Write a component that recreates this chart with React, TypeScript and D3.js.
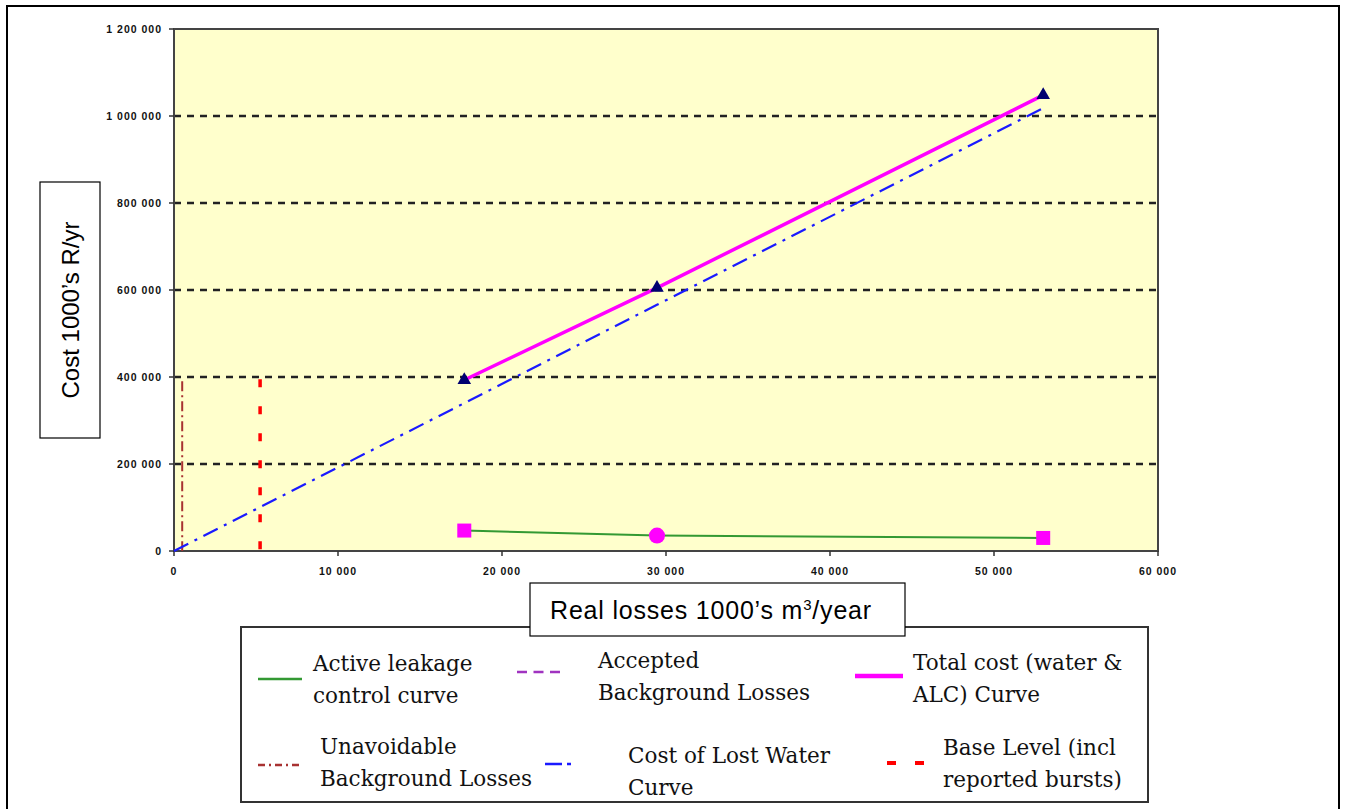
import React from "react";
import * as d3 from "d3";

// ---- data ----
const xTicks = [0, 10000, 20000, 30000, 40000, 50000, 60000];
const yTicks = [0, 200000, 400000, 600000, 800000, 1000000, 1200000];
const gridValues = [200000, 400000, 600000, 800000, 1000000];

const lossPoints = [17700, 29450, 53000];
const totalCost = [393000, 605000, 1048000];
const alcCost = [47000, 35500, 30000];
const alcMarkerShapes = ["square", "circle", "square"];

const lostWaterX = [0, 17700, 29450, 53000];
const lostWaterCost = [0, 340000, 566000, 1018000];

const unavoidableX = 500;
const unavoidableTop = 390000;
const baseLevelX = 5250;
const baseLevelTop = 395000;

const yTitle = "Cost 1000\u2019s R/yr";
const xTitleMain = "Real losses 1000\u2019s m";
const xTitleSup = "3";
const xTitleEnd = "/year";

const legendItems = [
  { lines: ["Active leakage", "control curve"], kind: "alc" },
  { lines: ["Accepted", "Background Losses"], kind: "accepted" },
  { lines: ["Total cost (water &", "ALC) Curve"], kind: "total" },
  { lines: ["Unavoidable", "Background Losses"], kind: "unavoidable" },
  { lines: ["Cost of Lost Water", "Curve"], kind: "lost" },
  { lines: ["Base Level (incl", "reported bursts)"], kind: "base" },
];

// ---- layout ----
const W = 1346;
const H = 809;
const plot = { left: 174, top: 29, right: 1158, bottom: 551 };

const COLORS = {
  alc: "#339933",
  accepted: "#a033c0",
  total: "#ff00ff",
  unavoidable: "#a83232",
  lost: "#1a1aff",
  base: "#ff0000",
  marker: "#ff00ff",
  tri: "#000070",
};

const legendLayout: Record<string, { sx1: number; sx2: number; sy: number; tx: number; ty: number }> = {
  alc: { sx1: 258, sx2: 302, sy: 679, tx: 313, ty: 671 },
  accepted: { sx1: 517, sx2: 560, sy: 672, tx: 598, ty: 668 },
  total: { sx1: 855, sx2: 903, sy: 676, tx: 913, ty: 670 },
  unavoidable: { sx1: 258, sx2: 301, sy: 765, tx: 320, ty: 754 },
  lost: { sx1: 545, sx2: 572, sy: 764, tx: 628, ty: 763 },
  base: { sx1: 887, sx2: 925, sy: 763, tx: 943, ty: 755 },
};

const lineStyles: Record<string, { stroke: string; width: number; dash?: string; legendDash?: string }> = {
  alc: { stroke: COLORS.alc, width: 2 },
  accepted: { stroke: COLORS.accepted, width: 2.5, dash: "10,6.5", legendDash: "10,6.5" },
  total: { stroke: COLORS.total, width: 3.5 },
  unavoidable: { stroke: COLORS.unavoidable, width: 2, dash: "10,4,2,4", legendDash: "7,4,2,4" },
  lost: { stroke: COLORS.lost, width: 2.2, dash: "16,7,3,7", legendDash: "17,5,4,100" },
  base: { stroke: COLORS.base, width: 3.5, dash: "8,19", legendDash: "9,19" },
};

const fmt = (v: number) => d3.format(",")(v).replace(/,/g, " ");

export default function App() {
  const x = d3.scaleLinear().domain([0, 60000]).range([plot.left, plot.right]);
  const y = d3.scaleLinear().domain([0, 1200000]).range([plot.bottom, plot.top]);

  const line = d3
    .line<[number, number]>()
    .x((d) => x(d[0]))
    .y((d) => y(d[1]));

  const totalPath = line(lossPoints.map((v, i) => [v, totalCost[i]] as [number, number])) || "";
  const alcPath = line(lossPoints.map((v, i) => [v, alcCost[i]] as [number, number])) || "";
  const lostPath = line(lostWaterX.map((v, i) => [v, lostWaterCost[i]] as [number, number])) || "";
  const triPath = d3.symbol().type(d3.symbolTriangle).size(80)() || "";

  const tickFont = {
    fontFamily: "'Liberation Sans', Arial, sans-serif",
    fontSize: 10.5,
    fontWeight: 700,
    letterSpacing: 1,
    fill: "#111",
  } as const;

  return (
    <svg
      width={W}
      height={H}
      style={{ position: "absolute", left: 0, top: 0, background: "#fff" }}
    >
      <rect x={0} y={0} width={W} height={H} fill="#fff" />
      {/* outer frame */}
      <rect x={7} y={6} width={1332} height={830} fill="none" stroke="#000" strokeWidth={2} />

      {/* plot area */}
      <rect
        x={plot.left}
        y={plot.top}
        width={plot.right - plot.left}
        height={plot.bottom - plot.top}
        fill="#ffffcc"
      />
      {gridValues.map((v) => (
        <line
          key={"g" + v}
          x1={plot.left}
          x2={plot.right}
          y1={y(v)}
          y2={y(v)}
          stroke="#222"
          strokeWidth={2.5}
          strokeDasharray="7,6"
        />
      ))}
      <rect
        x={plot.left}
        y={plot.top}
        width={plot.right - plot.left}
        height={plot.bottom - plot.top}
        fill="none"
        stroke="#444"
        strokeWidth={2}
      />

      {/* y ticks */}
      {yTicks.map((v) => (
        <g key={"yt" + v}>
          <line x1={plot.left - 5} x2={plot.left} y1={y(v)} y2={y(v)} stroke="#333" strokeWidth={1.5} />
          <text x={162} y={y(v) + 3.8} textAnchor="end" {...tickFont}>
            {fmt(v)}
          </text>
        </g>
      ))}
      {/* x ticks */}
      {xTicks.map((v) => (
        <g key={"xt" + v}>
          <line x1={x(v)} x2={x(v)} y1={plot.bottom} y2={plot.bottom + 5} stroke="#333" strokeWidth={1.5} />
          <text x={x(v)} y={575} textAnchor="middle" {...tickFont}>
            {fmt(v)}
          </text>
        </g>
      ))}

      {/* vertical reference lines */}
      <line
        x1={x(unavoidableX)}
        x2={x(unavoidableX)}
        y1={y(unavoidableTop)}
        y2={y(0)}
        stroke={COLORS.unavoidable}
        strokeWidth={2}
        strokeDasharray={lineStyles.unavoidable.dash}
      />
      <line
        x1={x(baseLevelX)}
        x2={x(baseLevelX)}
        y1={y(baseLevelTop)}
        y2={y(0)}
        stroke={COLORS.base}
        strokeWidth={3.5}
        strokeDasharray={lineStyles.base.dash}
      />

      {/* series */}
      <path d={lostPath} fill="none" stroke={COLORS.lost} strokeWidth={2.2} strokeDasharray={lineStyles.lost.dash} />
      <path d={alcPath} fill="none" stroke={COLORS.alc} strokeWidth={2} />
      <path d={totalPath} fill="none" stroke={COLORS.total} strokeWidth={3.5} />

      {lossPoints.map((v, i) => (
        <path key={"tri" + i} d={triPath} transform={`translate(${x(v)},${y(totalCost[i])})`} fill={COLORS.tri} />
      ))}
      {lossPoints.map((v, i) =>
        alcMarkerShapes[i] === "circle" ? (
          <circle key={"m" + i} cx={x(v)} cy={y(alcCost[i])} r={8} fill={COLORS.marker} />
        ) : (
          <rect key={"m" + i} x={x(v) - 7} y={y(alcCost[i]) - 7} width={14} height={14} fill={COLORS.marker} />
        )
      )}

      {/* y axis title box */}
      <rect x={40} y={182} width={60} height={256} fill="#fff" stroke="#000" strokeWidth={1.2} />
      <text
        transform="translate(79,310) rotate(-90)"
        textAnchor="middle"
        fontFamily="'Liberation Sans', Arial, sans-serif"
        fontSize={24}
        fill="#000"
      >
        {yTitle}
      </text>

      {/* legend */}
      <rect x={241} y={627} width={907} height={175} fill="#fff" stroke="#333" strokeWidth={2} />
      {legendItems.map((it) => {
        const L = legendLayout[it.kind];
        const s = lineStyles[it.kind];
        return (
          <g key={it.kind}>
            <line
              x1={L.sx1}
              x2={L.sx2}
              y1={L.sy}
              y2={L.sy}
              stroke={s.stroke}
              strokeWidth={it.kind === "total" ? 4.5 : it.kind === "base" ? 4 : 2.5}
              strokeDasharray={s.legendDash}
            />
            {it.lines.map((t, j) => (
              <text
                key={j}
                x={L.tx}
                y={L.ty + j * 32}
                fontFamily="'DejaVu Serif', serif"
                fontSize={21.5}
                fill="#111"
              >
                {t}
              </text>
            ))}
          </g>
        );
      })}

      {/* x axis title box */}
      <rect x={530} y={583} width={375} height={53} fill="#fff" stroke="#000" strokeWidth={1.2} />
      <text
        x={711}
        y={619}
        textAnchor="middle"
        fontFamily="'Liberation Sans', Arial, sans-serif"
        fontSize={25}
        letterSpacing={0.8}
        fill="#000"
      >
        {xTitleMain}
        <tspan fontSize={15} dy={-9}>
          {xTitleSup}
        </tspan>
        <tspan dy={9}>{xTitleEnd}</tspan>
      </text>
    </svg>
  );
}
